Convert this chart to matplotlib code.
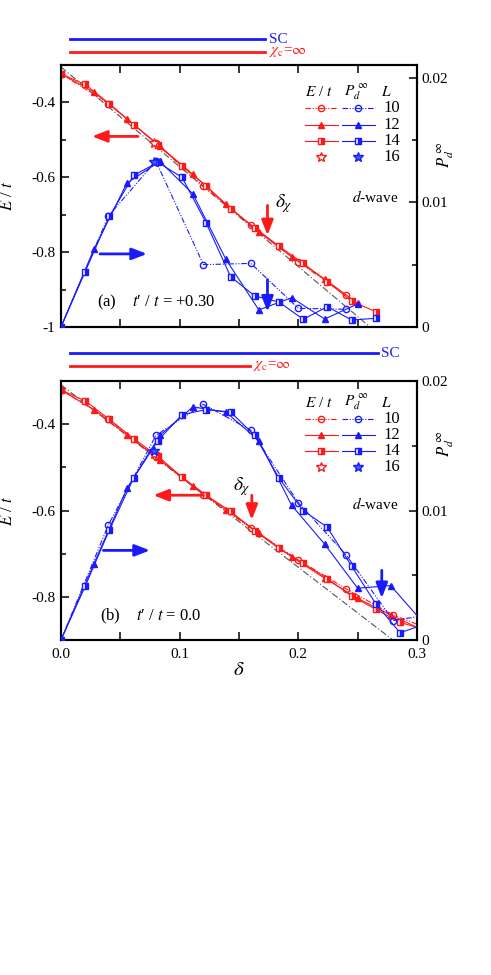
import matplotlib
matplotlib.use("Agg")
import matplotlib.pyplot as plt
from matplotlib.ticker import MultipleLocator, FuncFormatter

plt.rcParams['font.family'] = ['Liberation Serif', 'DejaVu Serif']
plt.rcParams['mathtext.fontset'] = 'stix'
plt.rcParams['axes.unicode_minus'] = False
plt.rcParams['font.size'] = 11

RED = '#ff1a1a'
BLUE = '#1a1aff'

# ---- panel (a): t'/t = +0.30 ----
a_d10 = [0.0, 0.04, 0.08, 0.12, 0.16, 0.20, 0.24]
a_e10 = [-0.3235, -0.403, -0.5085, -0.624, -0.728, -0.826, -0.915]
a_p10 = [0.0, 0.0089, 0.0133, 0.0050, 0.0051, 0.0015, 0.00142]

a_d12 = [0.0, 0.0278, 0.0556, 0.0833, 0.1111, 0.1389, 0.1667, 0.1944, 0.2222, 0.25]
a_e12 = [-0.3235, -0.3725, -0.4435, -0.517, -0.592, -0.672, -0.746, -0.8125, -0.872, -0.937]
a_p12 = [0.0, 0.00624, 0.01154, 0.01328, 0.01068, 0.00544, 0.00137, 0.00235, 0.00064, 0.00185]

a_d14 = [0.0, 0.0204, 0.0408, 0.0612, 0.0816, 0.1020, 0.1224, 0.1429, 0.1633,
         0.1837, 0.2041, 0.2245, 0.2449, 0.2653]
a_e14 = [-0.3235, -0.352, -0.4035, -0.459, -0.513, -0.570, -0.623, -0.6835, -0.735,
         -0.784, -0.830, -0.879, -0.931, -0.959]
a_p14 = [0.0, 0.00444, 0.00886, 0.01215, 0.0132, 0.0120, 0.00833, 0.00404, 0.00249,
         0.0020, 0.00062, 0.00163, 0.00056, 0.0007]

a_d16 = [0.0781]
a_e16 = [-0.508]
a_p16 = [0.0132]

a_guide_d = [0.0, 0.2605]
a_guide_e = [-0.305, -1.0]

a_sc = [0.0075, 0.172]
a_chi = [0.0075, 0.172]
a_dchi = 0.174

# ---- panel (b): t'/t = 0.0 ----
b_d10 = [0.0, 0.04, 0.08, 0.12, 0.16, 0.20, 0.24, 0.28, 0.32]
b_e10 = [-0.3207, -0.388, -0.476, -0.563, -0.6407, -0.7143, -0.781, -0.842, -0.885]
b_p10 = [0.0, 0.0089, 0.0158, 0.0182, 0.0162, 0.0106, 0.0066, 0.0015, 0.0021]

b_d12 = [0.0, 0.0278, 0.0556, 0.0833, 0.1111, 0.1389, 0.1667, 0.1944, 0.2222, 0.25,
         0.2778, 0.3056]
b_e12 = [-0.3207, -0.3664, -0.425, -0.483, -0.543, -0.598, -0.652, -0.7076, -0.757,
         -0.8035, -0.842, -0.878]
b_p12 = [0.0, 0.0059, 0.0117, 0.0158, 0.0180, 0.0176, 0.0154, 0.0104, 0.0074, 0.0040,
         0.0042, 0.0013]

b_d14 = [0.0, 0.0204, 0.0408, 0.0612, 0.0816, 0.1020, 0.1224, 0.1429, 0.1633, 0.1837,
         0.2041, 0.2245, 0.2449, 0.2653, 0.2857, 0.3061]
b_e14 = [-0.3207, -0.346, -0.389, -0.4335, -0.474, -0.5227, -0.5646, -0.602, -0.647,
         -0.688, -0.722, -0.758, -0.798, -0.829, -0.859, -0.876]
b_p14 = [0.0, 0.00415, 0.0085, 0.0125, 0.0154, 0.0174, 0.0178, 0.0176, 0.0158, 0.0125,
         0.0100, 0.0087, 0.0057, 0.0028, 0.00056, 0.0012]

b_d16 = [0.0781]
b_e16 = [-0.470]
b_p16 = [0.0146]

b_guide_d = [0.0, 0.283]
b_guide_e = [-0.309, -0.907]

b_sc = [0.0075, 0.267]
b_chi = [0.0075, 0.159]
b_dchi = 0.1608
b_dsc = 0.2703

L_labels = ['10', '12', '14', '16']

DASHDOT = (0, (5, 1.5, 1, 1.5, 1, 1.5))


def series_styles(color, star_face):
    """marker / line style for L = 10, 12, 14, 16"""
    return [
        dict(marker='o', mfc='none', mec=color, ls=DASHDOT, lw=0.8, ms=4.5),
        dict(marker='^', mfc=color, mec=color, ls='-', lw=0.8, ms=5),
        dict(marker='s', mfc=color, mec=color, fillstyle='right',
             markerfacecoloralt='white', ls='-', lw=0.8, ms=4.5),
        dict(marker='*', mfc=star_face, mec=color, ls='none', lw=0.8, ms=7),
    ]


def fmt_e(v, pos):
    if abs(v - round(v)) < 1e-9:
        return '%d' % round(v)
    return ('%.1f' % v)


def fmt_p(v, pos):
    if abs(v) < 1e-12:
        return '0'
    return '%.2f' % v


def draw_panel(ax, energies, pds, guide, ylim, bars):
    ax2 = ax.twinx()
    red_st = series_styles(RED, 'white')
    blue_st = series_styles(BLUE, '#3366ff')

    ax.plot(guide[0], guide[1], color='#555555', ls=(0, (6, 2, 1, 2)), lw=0.8, zorder=1)
    for (d, e), st in zip(energies, red_st):
        ax.plot(d, e, color=RED, zorder=3, **st)
    for (d, p), st in zip(pds, blue_st):
        ax2.plot(d, p, color=BLUE, zorder=3, **st)

    ax.set_xlim(0, 0.3)
    ax.set_ylim(*ylim)
    ax2.set_ylim(0, bars['pmax'])

    ax.xaxis.set_major_locator(MultipleLocator(0.1))
    ax.xaxis.set_minor_locator(MultipleLocator(0.05))
    ax.yaxis.set_major_locator(MultipleLocator(0.2))
    ax.yaxis.set_minor_locator(MultipleLocator(0.1))
    ax.yaxis.set_major_formatter(FuncFormatter(fmt_e))
    ax2.yaxis.set_major_locator(MultipleLocator(0.01))
    ax2.yaxis.set_minor_locator(MultipleLocator(0.005))
    ax2.yaxis.set_major_formatter(FuncFormatter(fmt_p))

    ax.tick_params(which='both', direction='in', top=True, right=False, width=1.1,
                   labelsize=11, pad=4)
    ax.tick_params(which='major', length=6)
    ax.tick_params(which='minor', length=6)
    ax.tick_params(axis='y', which='minor', length=3.5)
    ax.tick_params(axis='x', pad=6)
    ax2.tick_params(which='both', direction='in', width=1.1, labelsize=11, pad=3)
    ax2.tick_params(which='major', length=6)
    ax2.tick_params(which='minor', length=3.5)
    for a in (ax, ax2):
        for s in a.spines.values():
            s.set_linewidth(1.5)

    ax.set_ylabel(r'$E$ / $t$', fontsize=12)
    ax.yaxis.set_label_coords(-0.125, 0.5)
    ax2.text(bars['plab'][0], bars['plab'][1], r'$P_d^{\ \infty}$', rotation=90,
             transform=ax2.transAxes, ha='center', va='center', fontsize=12)

    # range bars above the frame
    tr = ax.get_xaxis_transform()
    ax.plot(bars['sc'], [bars['ysc']] * 2, color=BLUE, lw=2, transform=tr, clip_on=False)
    ax.plot(bars['chi'], [bars['ychi']] * 2, color=RED, lw=2, transform=tr, clip_on=False)
    ax.text(bars['sc'][1] + 0.003, bars['ysc'], 'SC', color=BLUE, transform=tr,
            ha='left', va='center', fontsize=11)
    ax.text(bars['chi'][1] + 0.003, bars['ychi'], r'$\chi_{\rm c}$=$\infty$', color=RED,
            transform=tr, ha='left', va='center', fontsize=11)

    # legend, drawn by hand
    ly = bars['legy']
    ax.text(0.725, ly, r'$E$ / $t$', transform=ax.transAxes, ha='center', va='center',
            fontsize=11)
    ax.text(0.83, ly, r'$P_d^{\ \infty}$', transform=ax.transAxes, ha='center',
            va='center', fontsize=11)
    ax.text(0.915, ly, r'$L$', transform=ax.transAxes, ha='center', va='center',
            fontsize=11)
    for i, lab in enumerate(L_labels):
        y = ly - 0.062 * (i + 1)
        for x0, x1, st, col in ((0.685, 0.778, red_st[i], RED),
                                (0.788, 0.881, blue_st[i], BLUE)):
            line_st = dict(st)
            if line_st['ls'] != 'none':
                ax.plot([x0, x1], [y, y], color=col, ls=line_st['ls'], lw=0.8,
                        transform=ax.transAxes, clip_on=False)
            line_st['ls'] = 'none'
            ax.plot([(x0 + x1) / 2], [y], color=col, transform=ax.transAxes,
                    clip_on=False, **line_st)
        ax.text(0.93, y, lab, transform=ax.transAxes, ha='center', va='center',
                fontsize=12)
    return ax2


def arrow(ax, tail, head, color):
    ax.annotate('', xy=head, xytext=tail,
                arrowprops=dict(arrowstyle='-|>,head_length=0.9,head_width=0.35',
                                lw=2, color=color, mutation_scale=10,
                                shrinkA=0, shrinkB=0))


def main():
    fig = plt.figure(figsize=(4.91, 9.75), dpi=100)
    ax_a = fig.add_axes([0.1242, 0.6646, 0.7251, 0.2687])
    ax_b = fig.add_axes([0.1242, 0.3436, 0.7251, 0.2656])

    a2 = draw_panel(ax_a,
                    [(a_d10, a_e10), (a_d12, a_e12), (a_d14, a_e14), (a_d16, a_e16)],
                    [(a_d10, a_p10), (a_d12, a_p12), (a_d14, a_p14), (a_d16, a_p16)],
                    (a_guide_d, a_guide_e), (-1.0, -0.3),
                    dict(pmax=0.021, sc=a_sc, chi=a_chi, ysc=1.098, ychi=1.048,
                         legy=0.897, plab=(1.08, 0.66)))
    b2 = draw_panel(ax_b,
                    [(b_d10, b_e10), (b_d12, b_e12), (b_d14, b_e14), (b_d16, b_e16)],
                    [(b_d10, b_p10), (b_d12, b_p12), (b_d14, b_p14), (b_d16, b_p16)],
                    (b_guide_d, b_guide_e), (-0.9, -0.3),
                    dict(pmax=0.02, sc=b_sc, chi=b_chi, ysc=1.107, ychi=1.058,
                         legy=0.916, plab=(1.08, 0.76)))

    ax_a.tick_params(axis='x', labelbottom=False)
    ax_b.set_xlabel(r'$\delta$', fontsize=15, labelpad=0)

    # panel (a) annotations
    arrow(ax_a, (0.0649, -0.4907), (0.0261, -0.4907), RED)
    arrow(a2, (0.0329, 0.00586), (0.0725, 0.00586), BLUE)
    arrow(ax_a, (a_dchi, -0.675), (a_dchi, -0.755), RED)
    arrow(a2, (a_dchi, 0.0038), (a_dchi, 0.00123), BLUE)
    ax_a.text(a_dchi + 0.006, -0.67, r'$\delta_\chi$', fontsize=14, ha='left', va='center')
    ax_a.text(0.101, 0.095, "(a)    $t$\u2032 / $t$ = +0.30", transform=ax_a.transAxes,
              fontsize=12, ha='left', va='center')
    ax_a.text(0.947, 0.496, r'$d$-wave', transform=ax_a.transAxes, fontsize=11,
              ha='right', va='center')

    # panel (b) annotations
    arrow(ax_b, (0.12, -0.5646), (0.0778, -0.5646), RED)
    arrow(b2, (0.0357, 0.00692), (0.075, 0.00692), BLUE)
    arrow(ax_b, (b_dchi, -0.5646), (b_dchi, -0.6217), RED)
    arrow(b2, (b_dsc, 0.00538), (b_dsc, 0.00323), BLUE)
    ax_b.text(b_dchi - 0.016, -0.545, r'$\delta_\chi$', fontsize=14, ha='left', va='center')
    ax_b.text(0.109, 0.093, "(b)    $t$\u2032 / $t$ = 0.0", transform=ax_b.transAxes,
              fontsize=12, ha='left', va='center')
    ax_b.text(0.947, 0.525, r'$d$-wave', transform=ax_b.transAxes, fontsize=11,
              ha='right', va='center')

    fig.savefig('out.png', dpi=100)


if __name__ == "__main__":
    main()
